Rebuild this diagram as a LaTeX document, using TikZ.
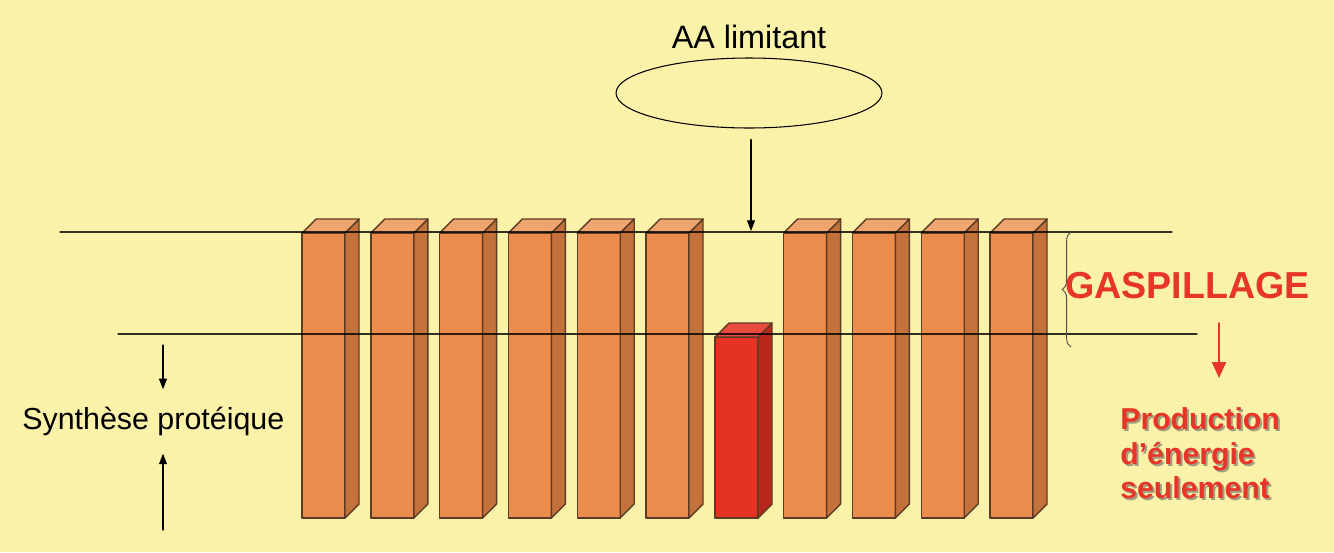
\documentclass[tikz,border=0pt]{standalone}
\usepackage{fontspec}
\setmainfont{Liberation Sans}
\usetikzlibrary{arrows.meta,positioning,shapes.geometric,decorations.pathreplacing}

\definecolor{fond}{HTML}{FBF2A9}
\definecolor{orfront}{HTML}{EC8C4C}
\definecolor{orside}{HTML}{C4723C}
\definecolor{ortop}{HTML}{F0A46E}
\definecolor{rgfront}{HTML}{E63222}
\definecolor{rgside}{HTML}{B8261C}
\definecolor{rgtop}{HTML}{EA4A3E}
\definecolor{contour}{HTML}{5C3C24}
\definecolor{rouge}{HTML}{E8352A}

% one column: x of front face, y of its top, colours of front, side, top
\newcommand{\colonne}[5]{%
  \filldraw[fill=#3, draw=contour, line width=0.8pt, line join=round]
    (#1,#2) rectangle (#1+43,518);
  \filldraw[fill=#4, draw=contour, line width=0.8pt, line join=round]
    (#1+43,#2) -- (#1+57,#2-14) -- (#1+57,504) -- (#1+43,518) -- cycle;
  \filldraw[fill=#5, draw=contour, line width=0.8pt, line join=round]
    (#1,#2) -- (#1+14,#2-14) -- (#1+57,#2-14) -- (#1+43,#2) -- cycle;
}

\tikzset{
  lbl/.style={inner sep=0pt, font=\fontsize{17.3}{20}\selectfont},
  fleche/.style={-{Triangle[length=6pt,width=4.5pt]}, line width=0.6pt},
  niveau/.style={line width=0.6pt, draw opacity=0.8},
}

\begin{document}
\begin{tikzpicture}[x=0.02cm, y=-0.02cm, >=stealth, line cap=round]
  \useasboundingbox (0,0) rectangle (1334,552);
  \fill[fond] (0,0) rectangle (1334,552);

  % columns
  \foreach \i in {0,...,5,7,8,9,10} {
    \pgfmathsetmacro\xx{302+68.8*\i}
    \colonne{\xx}{233}{orfront}{orside}{ortop}
  }
  \colonne{715}{337}{rgfront}{rgside}{rgtop}

  % levels
  \draw[niveau] (60,232) -- (1172,232);
  \draw[niveau] (118,334) -- (1197,334);
  \draw[line width=0.5pt, black!70, decorate,
        decoration={brace, amplitude=5pt, aspect=0.5}] (1071,347) -- (1071,232);

  % limiting amino acid
  \node[lbl, font=\fontsize{18.4}{22}\selectfont, anchor=base] (titre) at (749,48) {AA limitant};
  \node[ellipse, draw, line width=0.6pt, minimum width=5.32cm, minimum height=1.4cm] (ovale) at (749,93) {};
  \coordinate (trou) at (751,231);
  \draw[fleche, shorten <=0.22cm] (ovale.south -| trou) -- (trou);

  % protein synthesis
  \node[lbl, anchor=base west] (synth) at (22,429) {Synthèse protéique};
  \coordinate (s1) at (163,345);
  \coordinate (s2) at (163,530);
  \draw[fleche, shorten >=0.34cm] (s1) -- (s1 |- synth.north);
  \draw[fleche, shorten >=0.36cm] (s2) -- (s2 |- synth.south);

  % waste
  \node[lbl, anchor=base west, text=rouge, font=\fontsize{21.4}{24}\selectfont\bfseries] (gasp) at (1065,298) {GASPILLAGE};
  \coordinate (r1) at (1219,323);
  \coordinate (r2) at (1219,378);
  \draw[-{Triangle[length=9pt,width=8pt]}, rouge, line width=0.8pt] (r1) -- (r2);
  \node[lbl, anchor=north west, align=left, text=black!60, opacity=0.6,
        font=\fontsize{17.2}{19.8}\selectfont\bfseries] (prodombre) at (1122,409)
        {Production\\d’énergie\\seulement};
  \node[lbl, anchor=north west, align=left, text=rouge,
        font=\fontsize{17.2}{19.8}\selectfont\bfseries] (prod) at (1120,407)
        {Production\\d’énergie\\seulement};
\end{tikzpicture}
\end{document}
